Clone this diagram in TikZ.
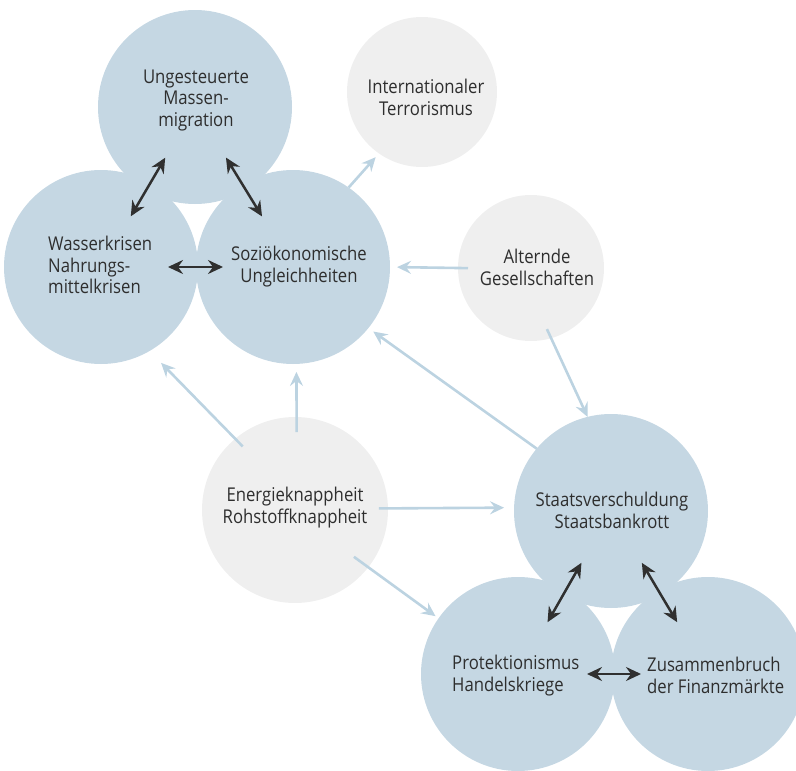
\documentclass[tikz,border=0pt]{standalone}
\usepackage{fontspec}
\setmainfont{Open Sans}[FakeStretch=0.88]
\usetikzlibrary{arrows.meta}
\definecolor{blueC}{HTML}{C5D7E3}
\definecolor{grayC}{HTML}{EFEFEF}
\definecolor{liteA}{HTML}{BCD3E1}
\definecolor{darkA}{HTML}{303030}
\definecolor{txtC}{HTML}{2E2E2E}
\begin{document}
\begin{tikzpicture}[x=1pt,y=-1pt,
  bub/.style={circle,fill=blueC,draw=none,inner sep=0pt,outer sep=0pt,minimum size=194pt},
  gbub/.style={circle,fill=grayC,draw=none,inner sep=0pt,outer sep=0pt,minimum size=#1},
  lbl/.style={text=txtC,font=\fontsize{19}{21.5}\selectfont,align=center,inner sep=0pt},
  lbll/.style={lbl,align=left,anchor=west},
  lite/.style={draw=liteA,line width=2.6pt,-{Stealth[length=14pt,width=13pt,inset=5pt]}},
  dark/.style={draw=darkA,line width=2.5pt,{Stealth[length=15pt,width=14pt,inset=5pt]}-{Stealth[length=15pt,width=14pt,inset=5pt]}}
]
\useasboundingbox (0,0) rectangle (796,771);
% circles
\node[bub] (mig) at (195,107) {};
\node[bub] (was) at (101,267) {};
\node[bub] (soz) at (293,267) {};
\node[gbub=150pt] (ter) at (422,92) {};
\node[gbub=146pt] (alt) at (531,268) {};
\node[gbub=186pt] (en) at (295,510) {};
\node[bub] (sta) at (611,511) {};
\node[bub] (pro) at (518,674) {};
\node[bub] (zus) at (708,674) {};
% labels
\node[lbl] (tmig) at (196,100) {Ungesteuerte\\Massen-\\migration};
\node[lbll] (twas) at (48,265) {Wasserkrisen\\Nahrungs-\\mittelkrisen};
\node[lbl] (tsoz) at (299,266.5) {Soziökonomische\\Ungleichheiten};
\node[lbl] (tter) at (426,97.5) {Internationaler\\Terrorismus};
\node[lbl] (talt) at (537,267.5) {Alternde\\Gesellschaften};
\node[lbl] (ten) at (295,507.5) {Energieknappheit\\Rohstoffknappheit};
\node[lbl] (tsta) at (612,510.5) {Staatsverschuldung\\Staatsbankrott};
\node[lbll] (tpro) at (452,675.5) {Protektionismus\\Handelskriege};
\node[lbll] (tzus) at (647,675.5) {Zusammenbruch\\der Finanzmärkte};
% light arrows
\draw[lite,shorten >=5pt] (soz.55.5) -- (ter.-125.5);
\draw[lite,shorten <=-10pt,shorten >=7pt] (alt.180) -- (soz.0);
\draw[lite,shorten <=-10pt] (alt.-74.6) -- (sta.104.3);
\draw[lite,shorten <=-10.7pt,shorten >=16.6pt] (en.130.5) -- (was.-60);
\draw[lite,shorten <=-15pt,shorten >=8pt] (en.89.4) -- (soz.-88.2);
\draw[lite,shorten <=-9pt,shorten >=10pt] (en.1.2) -- (sta.178.2);
\draw[lite,shorten <=-17.75pt,shorten >=3.7pt] (en.-38.9) -- (pro.145.6);
\draw[lite,shorten >=6pt] (sta.140.5) -- (soz.-39.3);
% dark arrows
\draw[dark,shorten <=58.8pt,shorten >=58.8pt] (mig.center) -- (was.center);
\draw[dark,shorten <=59.3pt,shorten >=59.3pt] (mig.center) -- (soz.center);
\draw[dark,shorten <=67pt,shorten >=70pt] (was.center) -- (soz.center);
\draw[dark,shorten <=59.6pt,shorten >=59.6pt] (sta.center) -- (pro.center);
\draw[dark,shorten <=60.3pt,shorten >=60.3pt] (sta.center) -- (zus.center);
\draw[dark,shorten <=69pt,shorten >=67pt] (pro.center) -- (zus.center);
\end{tikzpicture}
\end{document}
